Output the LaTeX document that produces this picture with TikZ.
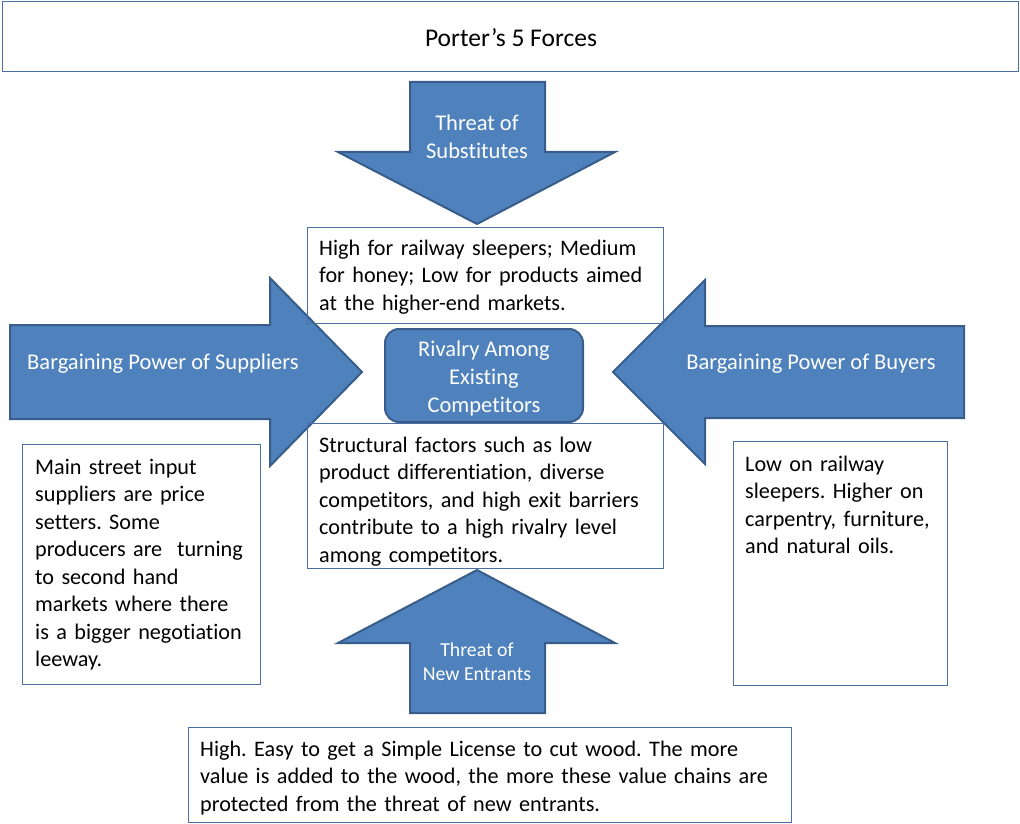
\documentclass[tikz,border=0pt]{standalone}
\usepackage{fontspec}
\setmainfont{Carlito}[Ligatures={TeX,NoCommon}]
\frenchspacing
\definecolor{forceblue}{HTML}{4F81BD}
\definecolor{forceedge}{HTML}{385D8A}
\definecolor{boxline}{HTML}{4A6FA5}
\tikzset{
  force/.style={fill=forceblue, draw=forceedge, line width=2pt, line join=miter},
  note/.style={draw=boxline, line width=1pt},
  forcetext/.style={white, align=center, inner sep=0pt, font=\fontsize{22.5}{28}\selectfont},
  notetext/.style={anchor=base west, inner sep=0pt, text width=600pt, align=left, font=\fontsize{22.2}{27.5}\selectfont}
}

\begin{document}
\begin{tikzpicture}[x=1pt, y=-1pt]
	\useasboundingbox (0,0) rectangle (1020,824);
	% title
	\draw [note] (2,2) rectangle (1018,72);
	\node[font=\fontsize{25.5}{30}\selectfont] (title) at (511,38) {Porter's 5 Forces};
	% arrows
	\draw [force] (410,82) -- (545,82) -- (545,152) -- (615,152) -- (477,224) -- (338,152) -- (410,152) -- cycle;
	\draw [force] (10,325) -- (270,325) -- (270,278) -- (362,372) -- (270,466) -- (270,419) -- (10,419) -- cycle;
	\draw [force] (964,326) -- (705,326) -- (705,280) -- (613,372) -- (705,464) -- (705,418) -- (964,418) -- cycle;
	\draw [force] (410,713) -- (545,713) -- (545,643) -- (615,643) -- (477,570) -- (338,643) -- (410,643) -- cycle;
	\draw [force, rounded corners=14pt] (385,329) rectangle (583,422);
	% boxes
	\draw [note] (307,227) rectangle (663,323);
	\draw [note] (307,423) rectangle (663,568);
	\draw [note] (22,444) rectangle (260,684);
	\draw [note] (733,441) rectangle (947,685);
	\draw [note] (188,727) rectangle (791,822);
	% labels
	\node[forcetext] (substitutes) at (477,137) {Threat of\\Substitutes};
	\node[forcetext] (suppliers) at (163,364) {Bargaining Power of Suppliers};
	\node[forcetext] (buyers) at (811,364) {Bargaining Power of Buyers};
	\node[forcetext, font=\fontsize{19.8}{24}\selectfont] (entrants) at (477,662) {Threat of\\New Entrants};
	\node[forcetext] (rivalry) at (484,378) {Rivalry Among\\Existing\\Competitors};
	% notes
	\node[notetext] (subsnote) at (319,255) {High for railway sleepers; Medium\\for honey; Low for products aimed\\at the higher-end markets.};
	\node[notetext] (rivalnote) at (319,452) {Structural factors such as low\\product differentiation, diverse\\competitors, and high exit barriers\\contribute to a high rivalry level\\among competitors.};
	\node[notetext] (suppnote) at (35,474) {Main street input\\suppliers are price\\setters. Some\\producers are\ \ turning\\to second hand\\markets where there\\is a bigger negotiation\\leeway.};
	\node[notetext] (buynote) at (745,471) {Low on railway\\sleepers. Higher on\\carpentry, furniture,\\and natural oils.};
	\node[notetext] (entrnote) at (200,756) {High. Easy to get a Simple License to cut wood. The more\\value is added to the wood, the more these value chains are\\protected from the threat of new entrants.};
\end{tikzpicture}
\end{document}
